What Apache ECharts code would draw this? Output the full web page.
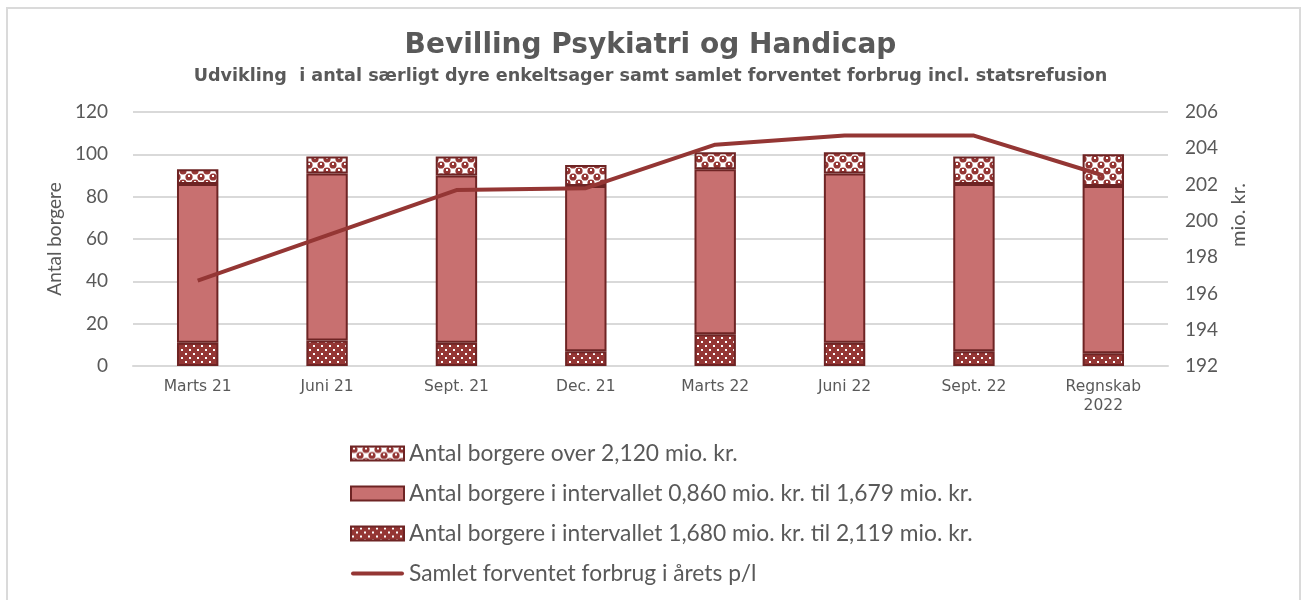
<!DOCTYPE html>
<html>
<head>
<meta charset="utf-8">
<script src="https://cdn.jsdelivr.net/npm/echarts@6/dist/echarts.min.js"></script>
<style>
  html, body { margin: 0; padding: 0; background: #fff; }
  #frame {
    position: absolute; left: 6px; top: 7px; width: 1291px; height: 620px;
    border: 2px solid #dadada; border-bottom: none;
  }
  #chart { position: absolute; left: 0; top: 0; width: 1301px; height: 600px; }
</style>
</head>
<body>
<div id="frame"></div>
<div id="chart"></div>
<script>
// kategorier og værdier
const categories = ['Marts 21', 'Juni 21', 'Sept. 21', 'Dec. 21', 'Marts 22', 'Juni 22', 'Sept. 22', 'Regnskab\n2022'];
const seriesNames = [
  'Antal borgere over 2,120 mio. kr.',
  'Antal borgere i intervallet 0,860 mio. kr. til 1,679 mio. kr.',
  'Antal borgere i intervallet 1,680 mio. kr. til 2,119 mio. kr.',
  'Samlet forventet forbrug i årets p/l'
];
const over2120 = [7, 8, 9, 10, 8, 10, 13, 15];
const interval860 = [75, 79, 79, 78, 78, 80, 79, 79];
const interval1680 = [11, 12, 11, 7, 15, 11, 7, 6];
const forbrug = [196.7, 199.2, 201.7, 201.8, 204.2, 204.7, 204.7, 202.5];
const leftTicks = { min: 0, max: 120, interval: 20 };
const rightTicks = { min: 192, max: 206, interval: 2 };

const DARK = '#943634';
const EDGE = '#6e2424';
const MID = '#c87070';
const GREY = '#595959';

// mønstre til søjlerne (Excel-agtige fyldmønstre)
function dotsPattern() {
  const c = document.createElement('canvas');
  c.width = 8; c.height = 8;
  const g = c.getContext('2d');
  g.fillStyle = DARK; g.fillRect(0, 0, 8, 8);
  g.fillStyle = '#fff';
  g.fillRect(1, 1, 2, 2);
  g.fillRect(5, 5, 2, 2);
  return c;
}
function confettiPattern() {
  const c = document.createElement('canvas');
  c.width = 12; c.height = 12;
  const g = c.getContext('2d');
  g.fillStyle = '#fff'; g.fillRect(0, 0, 12, 12);
  g.fillStyle = DARK;
  [[3, 3], [9, 9], [9, -3], [-3, 9], [15, 3], [3, 15]].forEach(p => {
    g.beginPath(); g.arc(p[0], p[1], 3.6, 0, Math.PI * 2); g.fill();
  });
  g.fillStyle = '#fff';
  g.fillRect(2, 1, 2, 2);
  g.fillRect(8, 7, 2, 2);
  return c;
}

const chart = echarts.init(document.getElementById('chart'));

const barBase = {
  type: 'bar',
  stack: 'borgere',
  barWidth: '32%',
  yAxisIndex: 0
};

chart.setOption({
  animation: false,
  title: [
    {
      text: 'Bevilling Psykiatri og Handicap',
      left: 'center', top: 27,
      textStyle: { fontFamily: 'DejaVu Sans', fontSize: 28, fontWeight: 'bold', color: GREY }
    },
    {
      text: 'Udvikling  i antal særligt dyre enkeltsager samt samlet forventet forbrug incl. statsrefusion',
      left: 'center', top: 62,
      textStyle: { fontFamily: 'DejaVu Sans', fontSize: 17.6, fontWeight: 'bold', color: GREY }
    }
  ],
  legend: {
    orient: 'vertical',
    left: 345, top: 436, height: 160,
    itemWidth: 53, itemHeight: 14,
    itemGap: 15,
    icon: 'rect',
    data: [
      seriesNames[0],
      seriesNames[1],
      seriesNames[2],
      { name: seriesNames[3], icon: 'path://M2,0 L51,0 A2,2 0 0 1 51,4 L2,4 A2,2 0 0 1 2,0 Z' }
    ],
    textStyle: { fontFamily: 'Lato', fontSize: 22.8, lineHeight: 25, color: GREY, padding: [0, 0, 0, 0] }
  },
  grid: { left: 133, right: 133, top: 112, bottom: 234 },
  xAxis: {
    type: 'category',
    data: categories,
    axisLine: { lineStyle: { color: '#d9d9d9', width: 2 } },
    axisTick: { show: false },
    axisLabel: { fontFamily: 'DejaVu Sans', fontSize: 15.5, color: GREY, margin: 11, lineHeight: 19 }
  },
  yAxis: [
    {
      type: 'value',
      min: leftTicks.min, max: leftTicks.max, interval: leftTicks.interval,
      name: 'Antal borgere',
      nameLocation: 'middle', nameRotate: 90, nameGap: 68,
      nameTextStyle: { fontFamily: 'Lato', fontSize: 19, color: GREY },
      axisLine: { show: false },
      axisTick: { show: false },
      axisLabel: { fontFamily: 'Lato', fontSize: 19, color: GREY, margin: 25 },
      splitLine: { lineStyle: { color: '#d9d9d9', width: 2 } }
    },
    {
      type: 'value',
      min: rightTicks.min, max: rightTicks.max, interval: rightTicks.interval,
      name: 'mio. kr.',
      nameLocation: 'middle', nameRotate: 90, nameGap: 50,
      nameTextStyle: { fontFamily: 'Lato', fontSize: 20, color: GREY, padding: [0, 0, 0, 48] },
      axisLine: { show: false },
      axisTick: { show: false },
      axisLabel: { fontFamily: 'Lato', fontSize: 19, color: GREY, margin: 17 },
      splitLine: { show: false }
    }
  ],
  series: [
    Object.assign({}, barBase, {
      name: seriesNames[2],
      data: interval1680,
      itemStyle: { color: { image: dotsPattern(), repeat: 'repeat' }, borderColor: EDGE, borderWidth: 2 }
    }),
    Object.assign({}, barBase, {
      name: seriesNames[1],
      data: interval860,
      itemStyle: { color: MID, borderColor: EDGE, borderWidth: 2 }
    }),
    Object.assign({}, barBase, {
      name: seriesNames[0],
      data: over2120,
      itemStyle: { color: { image: confettiPattern(), repeat: 'repeat' }, borderColor: EDGE, borderWidth: 2 }
    }),
    {
      name: seriesNames[3],
      type: 'line',
      yAxisIndex: 1,
      data: forbrug,
      symbol: 'none',
      z: 5,
      lineStyle: { color: DARK, width: 4 },
      itemStyle: { color: DARK }
    }
  ]
});
</script>
</body>
</html>
